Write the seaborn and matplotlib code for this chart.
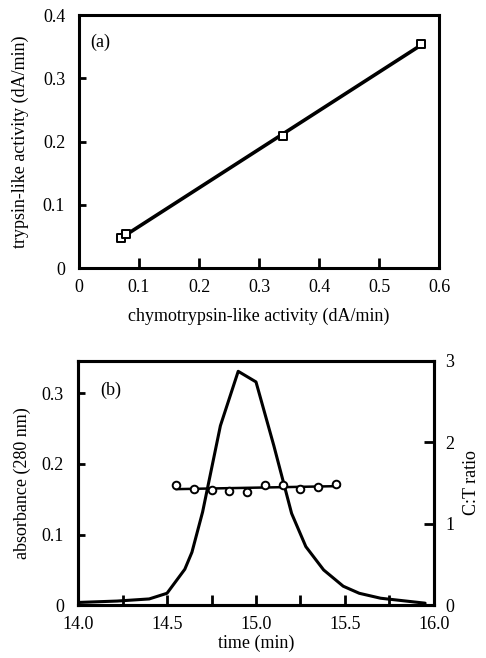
import numpy as np
import pandas as pd
import matplotlib
matplotlib.use("Agg")
import matplotlib.pyplot as plt
import seaborn as sns

# panel (a): trypsin vs chymotrypsin activity
chymo = [0.070, 0.078, 0.340, 0.570]
trypsin = [0.047, 0.054, 0.209, 0.354]

# panel (b): elution profile
time_abs = [14.00, 14.22, 14.40, 14.50, 14.60, 14.64, 14.70, 14.80, 14.90,
            15.00, 15.10, 15.20, 15.28, 15.38, 15.49, 15.58, 15.70, 15.95]
absorbance = [0.004, 0.006, 0.009, 0.017, 0.051, 0.075, 0.132, 0.254, 0.331,
              0.316, 0.226, 0.130, 0.083, 0.050, 0.027, 0.017, 0.010, 0.003]
time_ct = [14.55, 14.65, 14.75, 14.85, 14.95, 15.05, 15.15, 15.25, 15.35, 15.45]
ct_ratio = [1.47, 1.43, 1.42, 1.40, 1.39, 1.48, 1.47, 1.43, 1.45, 1.49]

sns.set_style("ticks")
plt.rcParams['font.family'] = ['Liberation Serif', 'DejaVu Serif']
plt.rcParams['axes.linewidth'] = 2.2
plt.rcParams['axes.edgecolor'] = 'black'
plt.rcParams['text.color'] = 'black'
plt.rcParams['axes.labelcolor'] = 'black'

fig = plt.figure(figsize=(4.86, 6.58), dpi=100)
tick_kw = dict(direction='in', color='black', width=2.0, labelcolor='black',
               labelsize=13)

# ---- (a)
ax1 = fig.add_axes([0.1626, 0.5927, 0.7407, 0.3845])
df_a = pd.DataFrame({'x': chymo, 'y': trypsin})
k, b = np.polyfit(chymo, trypsin, 1)
fit_x = [min(chymo), max(chymo)]
fit_y = [k * v + b for v in fit_x]
sns.lineplot(x=fit_x, y=fit_y, ax=ax1, color='black', lw=2.6)
sns.scatterplot(data=df_a, x='x', y='y', ax=ax1, marker='s', s=26,
                facecolor='white', edgecolor='black', linewidth=1.4, zorder=3)
ax1.set_xlim(0, 0.6)
ax1.set_ylim(0, 0.4)
ax1.set_xticks([0, 0.1, 0.2, 0.3, 0.4, 0.5, 0.6])
ax1.set_xticklabels(['0', '0.1', '0.2', '0.3', '0.4', '0.5', '0.6'])
ax1.set_yticks([0, 0.1, 0.2, 0.3, 0.4])
ax1.set_yticklabels(['0', '0.1', '0.2', '0.3', '0.4'])
ax1.tick_params(axis='x', length=7, pad=8, **tick_kw)
ax1.tick_params(axis='y', length=5, pad=10, **tick_kw)
ax1.set_xlabel('chymotrypsin-like activity (dA/min)', fontsize=13, labelpad=8)
ax1.set_ylabel('trypsin-like activity (dA/min)', fontsize=13, labelpad=10)
ax1.text(0.058, 0.89, '(a)', transform=ax1.transAxes, fontsize=13,
         ha='center', va='center')

# ---- (b)
ax2 = fig.add_axes([0.1605, 0.0801, 0.7325, 0.3717])
sns.lineplot(x=time_abs, y=absorbance, ax=ax2, color='black', lw=2.2)
ax2.set_xlim(14.0, 16.0)
ax2.set_ylim(0, 0.346)
ax2.set_xticks([14.0, 14.5, 15.0, 15.5, 16.0])
ax2.set_xticklabels(['14.0', '14.5', '15.0', '15.5', '16.0'])
ax2.set_xticks([14.25, 14.75, 15.25, 15.75], minor=True)
ax2.set_yticks([0, 0.1, 0.2, 0.3])
ax2.set_yticklabels(['0', '0.1', '0.2', '0.3'])
ax2.tick_params(axis='x', which='both', length=7, pad=8, **tick_kw)
ax2.tick_params(axis='y', length=5, pad=10, **tick_kw)
ax2.set_xlabel('time (min)', fontsize=13, labelpad=1)
ax2.set_ylabel('absorbance (280 nm)', fontsize=13, labelpad=8)
ax2.text(0.093, 0.88, '(b)', transform=ax2.transAxes, fontsize=13,
         ha='center', va='center')

ax3 = ax2.twinx()
k2, b2 = np.polyfit(time_ct, ct_ratio, 1)
fx2 = [min(time_ct), max(time_ct) + 0.02]
fy2 = [k2 * v + b2 for v in fx2]
sns.lineplot(x=fx2, y=fy2, ax=ax3, color='black', lw=1.8)
df_b = pd.DataFrame({'t': time_ct, 'r': ct_ratio})
sns.scatterplot(data=df_b, x='t', y='r', ax=ax3, marker='o', s=30,
                facecolor='white', edgecolor='black', linewidth=1.4, zorder=3)
ax3.set_ylim(0, 3)
ax3.set_yticks([0, 1, 2, 3])
ax3.set_yticklabels(['0', '1', '2', '3'])
ax3.tick_params(axis='y', length=7, pad=8, **tick_kw)
ax3.set_ylabel('C:T ratio', fontsize=13, labelpad=6)
for s in ax3.spines.values():
    s.set_linewidth(2.2)

fig.savefig('out.png', dpi=100)
